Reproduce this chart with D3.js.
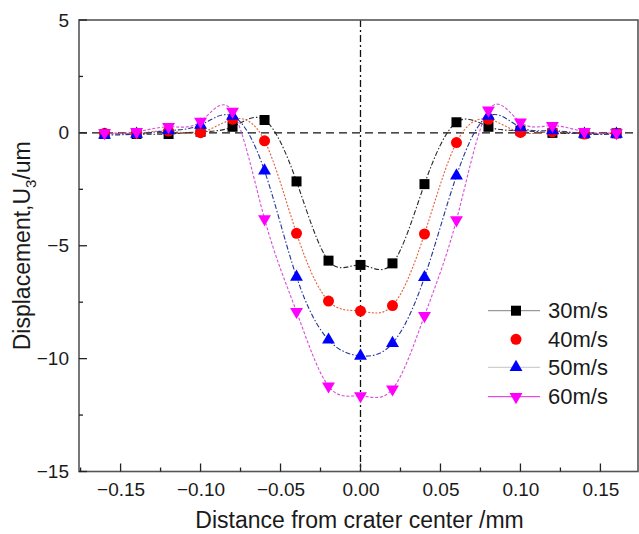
<!DOCTYPE html>
<html>
<head>
<meta charset="utf-8">
<script src="https://cdn.jsdelivr.net/npm/d3@7"></script>
<style>
  html, body { margin: 0; padding: 0; background: #fff; }
  svg { display: block; }
  text { font-family: "Liberation Sans", Arial, sans-serif; fill: #1a1a1a; }
</style>
</head>
<body>
<svg id="chart" width="639" height="534"></svg>
<script>
// Sampling positions across the crater (mm)
const distance = [-0.16, -0.14, -0.12, -0.10, -0.08, -0.06, -0.04, -0.02, 0, 0.02, 0.04, 0.06, 0.08, 0.10, 0.12, 0.14, 0.16];

// Vertical displacement U3 (um) for each impact speed
const u30 = [-0.05, -0.05, -0.05, 0.05, 0.27, 0.57, -2.15, -5.66, -5.85, -5.78, -2.27, 0.47, 0.27, 0.10, 0.00, -0.03, -0.02];
const u40 = [-0.02, -0.02, 0.08, 0.01, 0.60, -0.35, -4.45, -7.45, -7.89, -7.65, -4.48, -0.43, 0.60, 0.02, 0.05, -0.05, -0.02];
const u50 = [-0.10, -0.05, 0.10, 0.35, 0.75, -1.68, -6.38, -9.17, -9.88, -9.32, -6.40, -1.90, 0.75, 0.25, 0.10, -0.05, -0.05];
const u60 = [0.00, 0.05, 0.27, 0.50, 0.95, -3.81, -7.92, -11.22, -11.65, -11.35, -8.10, -3.86, 1.00, 0.47, 0.32, 0.05, 0.00];

const seriesNames = ["30m/s", "40m/s", "50m/s", "60m/s"];

const xTicks = [-0.15, -0.10, -0.05, 0.00, 0.05, 0.10, 0.15];
const yTicks = [5, 0, -5, -10, -15];

const svg = d3.select("#chart");
const plotLeft = 79, plotRight = 638, plotTop = 20, plotBottom = 471.5;

const x = d3.scaleLinear().domain([-0.176, 0.1735]).range([plotLeft, plotRight]);
const y = d3.scaleLinear().domain([-15, 5]).range([plotBottom, plotTop]);

// Styles per series: marker fill, curve colour, dash pattern, legend line colour, marker shape
const styles = [
  { fill: "#000000", stroke: "#2a2a2a", dash: "5,2,1.5,2", legend: "#9a9a9a", shape: "square" },
  { fill: "#ff0000", stroke: "#e2603c", dash: "2,1.6",     legend: null,      shape: "circle" },
  { fill: "#0000ff", stroke: "#23339c", dash: "5,2,1.5,2", legend: "#d0d0d0", shape: "up" },
  { fill: "#ff00ff", stroke: "#d84fd8", dash: "3,1.8",     legend: "#e050e0", shape: "down" }
];
const values = [u30, u40, u50, u60];

function markerPath(shape) {
  if (shape === "square") return d3.symbol(d3.symbolSquare, 100)();
  if (shape === "circle") return d3.symbol(d3.symbolCircle, 95)();
  return d3.symbol(d3.symbolTriangle, 72)();
}
function markerTransform(shape, px, py) {
  return shape === "down" ? `translate(${px},${py}) rotate(180)` : `translate(${px},${py})`;
}

// Reference lines: zero displacement and crater centre
svg.append("line")
  .attr("x1", plotLeft).attr("x2", plotRight)
  .attr("y1", y(0)).attr("y2", y(0))
  .attr("stroke", "#111").attr("stroke-width", 1.3)
  .attr("stroke-dasharray", "8,5");
svg.append("line")
  .attr("x1", x(0)).attr("x2", x(0))
  .attr("y1", plotTop).attr("y2", plotBottom)
  .attr("stroke", "#111").attr("stroke-width", 1.3)
  .attr("stroke-dasharray", "7,3,2,3");

// Smooth curves through the measured points
const line = d3.line()
  .x((d, i) => x(distance[i]))
  .y(d => y(d))
  .curve(d3.curveNatural);

values.forEach((vals, k) => {
  svg.append("path")
    .datum(vals)
    .attr("d", line)
    .attr("fill", "none")
    .attr("stroke", styles[k].stroke)
    .attr("stroke-width", 1.1)
    .attr("stroke-dasharray", styles[k].dash);
});

// Markers
values.forEach((vals, k) => {
  const st = styles[k];
  svg.append("g").selectAll("path")
    .data(vals)
    .join("path")
    .attr("d", markerPath(st.shape))
    .attr("transform", (d, i) => markerTransform(st.shape, x(distance[i]), y(d)))
    .attr("fill", st.fill);
});

// Frame
svg.append("rect")
  .attr("x", plotLeft).attr("y", plotTop)
  .attr("width", plotRight - plotLeft).attr("height", plotBottom - plotTop)
  .attr("fill", "none").attr("stroke", "#555").attr("stroke-width", 1.6);

// Bottom axis with inward ticks
const xAxis = d3.axisBottom(x).tickValues(xTicks).tickSize(0).tickFormat(d3.format(".2f"));
const gx = svg.append("g").attr("transform", `translate(0,${plotBottom})`).call(xAxis);
gx.select(".domain").remove();
gx.selectAll("text").attr("y", 24.5).attr("dy", 0).style("font-size", "19px")
  .style("font-family", "'Liberation Sans', Arial, sans-serif").attr("fill", "#1a1a1a");
d3.range(-0.175, 0.176, 0.025).forEach(v => {
  const major = Math.abs(Math.round(v * 1000) % 50) === 0;
  svg.append("line")
    .attr("x1", x(v)).attr("x2", x(v))
    .attr("y1", plotBottom).attr("y2", plotBottom - (major ? 8 : 4))
    .attr("stroke", "#222").attr("stroke-width", 1.3);
});

// Left axis with inward ticks
const yAxis = d3.axisLeft(y).tickValues(yTicks).tickSize(0).tickFormat(d3.format("d"));
const gy = svg.append("g").attr("transform", `translate(${plotLeft},0)`).call(yAxis);
gy.select(".domain").remove();
gy.selectAll("text").attr("x", -10).style("font-size", "19px")
  .style("font-family", "'Liberation Sans', Arial, sans-serif").attr("fill", "#1a1a1a");
d3.range(-15, 5.1, 2.5).forEach(v => {
  const major = v % 5 === 0;
  svg.append("line")
    .attr("x1", plotLeft).attr("x2", plotLeft + (major ? 8 : 4))
    .attr("y1", y(v)).attr("y2", y(v))
    .attr("stroke", "#222").attr("stroke-width", 1.3);
});

// Axis titles
svg.append("text")
  .attr("x", (plotLeft + plotRight) / 2 + 1).attr("y", 528)
  .attr("text-anchor", "middle")
  .style("font-size", "23px")
  .text("Distance from crater center /mm");

const yt = svg.append("text")
  .attr("transform", `translate(30,${(plotTop + plotBottom) / 2}) rotate(-90)`)
  .attr("text-anchor", "middle")
  .style("font-size", "23px");
yt.append("tspan").text("Displacement,U");
yt.append("tspan").attr("dy", 6).style("font-size", "15px").text("3");
yt.append("tspan").attr("dy", -6).text("/um");

// Legend
const legend = svg.append("g");
const rowY = [310.7, 339.3, 367.3, 396.7];
seriesNames.forEach((name, k) => {
  const st = styles[k];
  if (st.legend) {
    legend.append("line")
      .attr("x1", 488).attr("x2", 540)
      .attr("y1", rowY[k]).attr("y2", rowY[k])
      .attr("stroke", st.legend).attr("stroke-width", 1.2);
  }
  legend.append("path")
    .attr("d", markerPath(st.shape))
    .attr("transform", markerTransform(st.shape, 516, rowY[k]))
    .attr("fill", st.fill);
  legend.append("text")
    .attr("x", 548).attr("y", rowY[k] + 7.5)
    .style("font-size", "22px")
    .text(name);
});
</script>
</body>
</html>
